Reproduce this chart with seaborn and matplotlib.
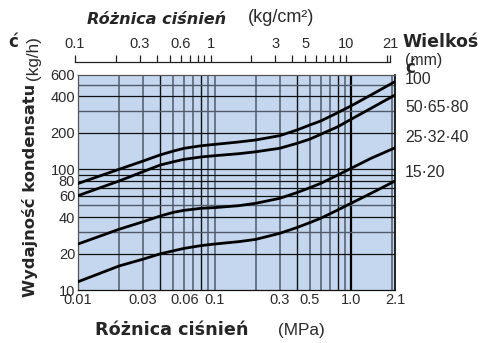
import numpy as np
import pandas as pd
import matplotlib
matplotlib.use("Agg")
import matplotlib.pyplot as plt
from matplotlib.ticker import FixedLocator, NullFormatter
import seaborn as sns

# ciśnienie (MPa) i wydajność kondensatu (kg/h) dla poszczególnych wielkości
pressure_mpa = [0.01, 0.02, 0.03, 0.04, 0.05, 0.06, 0.08, 0.1, 0.15, 0.2, 0.3,
                0.4, 0.5, 0.6, 0.8, 1.0, 1.4, 2.1]
cap_100 = [76, 99.6, 116.6, 131, 141, 148.6, 156, 160, 167.5, 174, 189,
           210, 231.6, 250, 293, 333, 410, 529]
cap_50_65_80 = [60.3, 79.7, 95.3, 108, 115, 120.5, 126, 129, 134, 139, 148.6,
                163, 177, 194, 224, 258, 318, 410]
cap_25_32_40 = [24, 31.8, 36.7, 40.9, 43.9, 45.6, 47.4, 48, 49.8, 52.1, 57.3,
                63.8, 70.2, 76.2, 89.3, 101.4, 122.7, 150]
cap_15_20 = [11.7, 15.8, 18.0, 19.9, 21.1, 22.1, 23.3, 24, 25.1, 26.2, 29.4,
             32.8, 36.1, 39.2, 45.9, 52.1, 63, 79.7]

size_labels = ["100", "50·65·80", "25·32·40", "15·20"]
bottom_ticks = [0.01, 0.03, 0.06, 0.1, 0.3, 0.5, 1.0, 2.1]
bottom_ticklabels = ["0.01", "0.03", "0.06", "0.1", "0.3", "0.5", "1.0", "2.1"]
top_ticks = [0.1, 0.3, 0.6, 1, 3, 5, 10, 21]
top_ticklabels = ["0.1", "0.3", "0.6", "1", "3", "5", "10", "21"]
top_minor = [0.2, 0.4, 0.5, 0.7, 0.8, 0.9, 2, 4, 6, 7, 8, 9, 20]
y_ticks = [10, 20, 40, 60, 80, 100, 200, 400, 600]

df = pd.DataFrame({
    "p": pressure_mpa * 4,
    "q": cap_100 + cap_50_65_80 + cap_25_32_40 + cap_15_20,
    "size": np.repeat(size_labels, len(pressure_mpa)),
})

sns.set_style("white")
plt.rcParams["font.family"] = ["DejaVu Sans"]
narrow = ["Liberation Sans Narrow", "Liberation Sans", "DejaVu Sans"]
txt_col = "#2a2a2a"

W, H = 492, 343
fig = plt.figure(figsize=(W / 100, H / 100), dpi=100)
ax = fig.add_axes([78 / W, 1 - 290 / H, 317 / W, 215 / H])
ax.set_facecolor("#c4d7ee")
ax.set_xscale("log")
ax.set_yscale("log")
ax.set_xlim(0.01, 2.1)
ax.set_ylim(10, 600)

# siatka
gray_v = [0.02, 0.03, 0.05, 0.06, 0.07, 0.09, 0.1, 0.2, 0.3, 0.5, 0.6, 0.7, 0.9, 2.0]
black_v = [0.04, 0.08, 0.4, 0.8]
for v in gray_v:
    ax.axvline(v, color="#4f5b6b", lw=1.1, zorder=1)
for v in black_v:
    ax.axvline(v, color="#111111", lw=1.0, zorder=1)
ax.axvline(1.0, color="#000000", lw=1.6, zorder=1)
black_h = [20, 40, 60, 70, 80, 90, 100, 200, 400]
gray_h = [30, 50, 300, 500]
for h in black_h:
    ax.axhline(h, color="#111111", lw=0.9, zorder=1)
for h in gray_h:
    ax.axhline(h, color="#4f5b6b", lw=1.0, zorder=1)

sns.lineplot(data=df, x="p", y="q", hue="size", palette=["black"] * 4,
             lw=2.0, legend=False, ax=ax, zorder=3)

for s in ax.spines.values():
    s.set_color("#555555")
    s.set_linewidth(0.9)
ax.spines["bottom"].set_color("#111111")
ax.spines["right"].set_color("#111111")
ax.spines["right"].set_linewidth(1.3)

ax.xaxis.set_major_locator(FixedLocator(bottom_ticks))
ax.set_xticklabels(bottom_ticklabels)
ax.xaxis.set_minor_locator(FixedLocator([]))
ax.xaxis.set_minor_formatter(NullFormatter())
ax.yaxis.set_major_locator(FixedLocator(y_ticks))
ax.set_yticklabels([str(t) for t in y_ticks])
ax.yaxis.set_minor_locator(FixedLocator([]))
ax.yaxis.set_minor_formatter(NullFormatter())
ax.tick_params(length=0, pad=2, labelsize=10.5, labelcolor=txt_col)
for lab in ax.get_xticklabels() + ax.get_yticklabels():
    lab.set_family(narrow)
ax.set_xlabel("")
ax.set_ylabel("")

# górna oś w kg/cm2
top = fig.add_axes([75 / W, 1 - 63 / H, 315 / W, 1 / H])
top.set_facecolor("none")
top.set_xscale("log")
top.set_xlim(0.1, 21)
top.set_yticks([])
for k in ["left", "right", "bottom"]:
    top.spines[k].set_visible(False)
top.spines["top"].set_color("#222222")
top.spines["top"].set_linewidth(0.9)
top.xaxis.tick_top()
top.xaxis.set_major_locator(FixedLocator(top_ticks))
top.set_xticklabels(top_ticklabels)
top.xaxis.set_minor_locator(FixedLocator(top_minor))
top.xaxis.set_minor_formatter(NullFormatter())
top.tick_params(which="both", direction="out", length=5, width=0.9, color="#222222",
                labelsize=10.5, labelcolor=txt_col, pad=3)
for lab in top.get_xticklabels():
    lab.set_family(narrow)


def ftext(x, y, s, **kw):
    fig.text(x / W, 1 - y / H, s, **kw)


ftext(87, 20, "Różnica ciśnień", fontsize=11.6, fontweight="bold", style="italic",
      ha="left", va="center")
ftext(248, 18, "(kg/cm²)", fontsize=13, ha="left", va="center", color=txt_col, family=narrow)
ftext(95, 330, "Różnica ciśnień", fontsize=12.7, fontweight="bold", ha="left", va="center")
ftext(278, 331, "(MPa)", fontsize=12.3, ha="left", va="center", color=txt_col, family=narrow)
ftext(30, 297, "Wydajność kondensatu", fontsize=11.8, fontweight="bold", rotation=90,
      ha="center", va="bottom")
ftext(33, 80, "(kg/h)", fontsize=12.3, rotation=90, ha="center", va="bottom",
      color=txt_col, family=narrow)
ftext(8, 42, "ć", fontsize=12, fontweight="bold", ha="left", va="center")

ftext(402, 42, "Wielkoś", fontsize=12.5, fontweight="bold", ha="left", va="center")
ftext(405, 61, "(mm)", fontsize=11.4, ha="left", va="center", color=txt_col, family=narrow)
ftext(405, 68, "ć", fontsize=12, fontweight="bold", ha="left", va="center")
label_y = [80, 108, 138, 172]
for s, yy in zip(size_labels, label_y):
    ftext(405, yy, s, fontsize=11.4, ha="left", va="center", color=txt_col, family=narrow)

fig.savefig("out.png", dpi=100)
